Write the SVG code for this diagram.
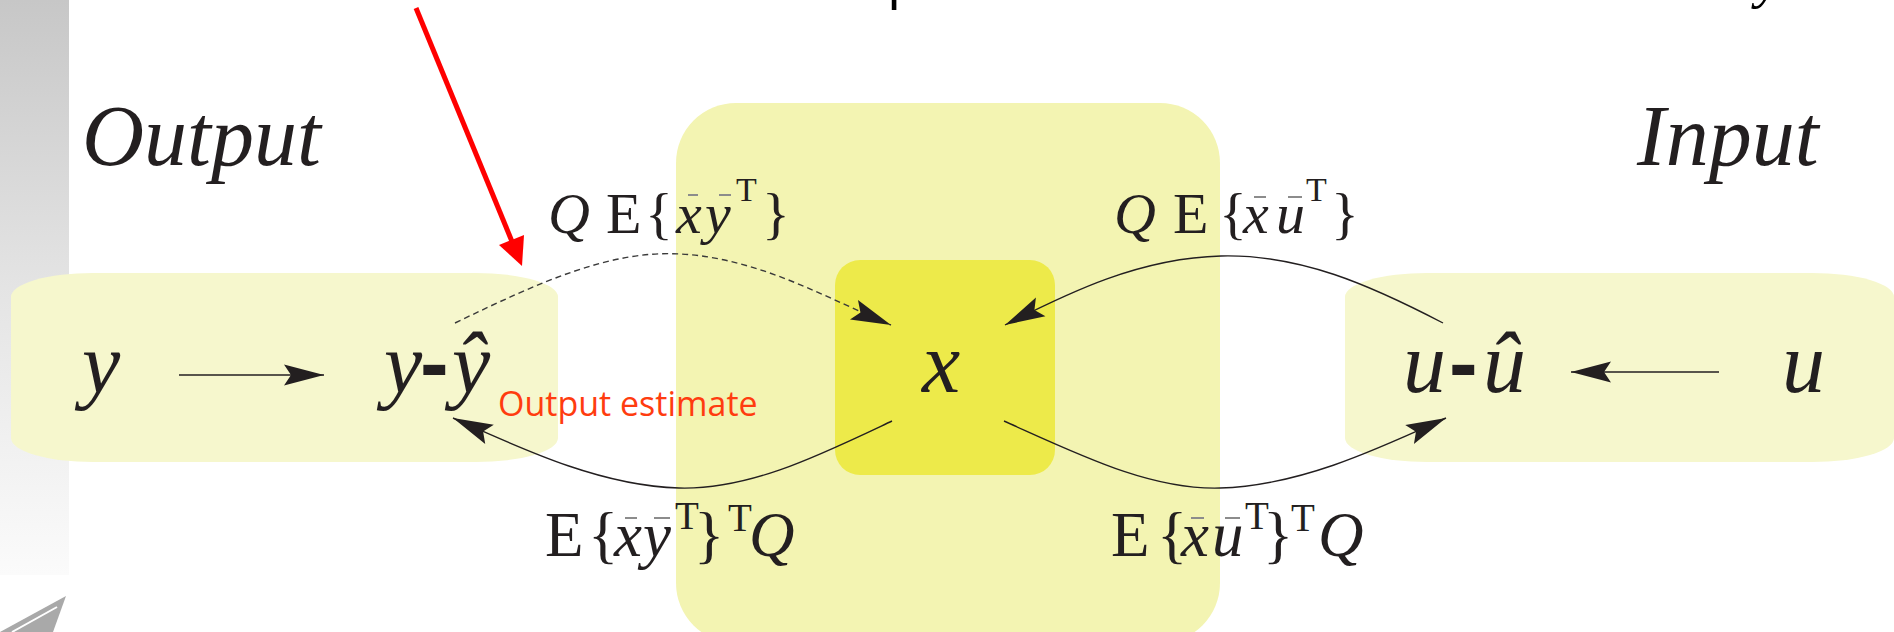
<svg xmlns="http://www.w3.org/2000/svg" width="1894" height="632" viewBox="0 0 1894 632">
  <style>
    .m { font-family: "Liberation Serif", "Times New Roman", serif; fill: #231f20; }
    .i { font-style: italic; }
    .big { font-size: 86px; }
    .lt { font-size: 58px; }
    .lb { font-size: 63px; }
    .sup1 { font-size: 34px; }
    .sup2 { font-size: 39px; }
    .bar { stroke: #8c8c8c; stroke-width: 2; }
    .conn { fill: none; stroke: #231f20; stroke-width: 1.4; }
    .dash { stroke: #3a3a3a; stroke-dasharray: 6 4; }
    .hy { font-family: "Liberation Sans", Arial, sans-serif; font-weight: bold; font-style: normal; }
  </style>
  <defs>
    <linearGradient id="strip" x1="0" y1="0" x2="0" y2="1">
      <stop offset="0" stop-color="#c7c7c7"/>
      <stop offset="0.5" stop-color="#e4e4e4"/>
      <stop offset="1" stop-color="#fbfbfb"/>
    </linearGradient>
    <marker id="ah" viewBox="-42 -12 44 24" refX="0" refY="0" markerWidth="44" markerHeight="24" markerUnits="userSpaceOnUse" orient="auto">
      <path d="M0,0 L-40,-10.5 L-33,0 L-40,10.5 Z" fill="#231f20" stroke="none"/>
    </marker>
  </defs>

  <!-- background decorations -->
  <rect x="0" y="0" width="69" height="575" fill="url(#strip)"/>
  <polygon points="0,632 66,596 53,632" fill="#a9a9a9"/>
  <line x1="12" y1="632" x2="57" y2="607" stroke="#ffffff" stroke-width="2"/>

  <!-- cut-off title fragments -->
  <text x="887" y="-4" font-family="Open Sans, sans-serif" font-size="56" fill="#000">p</text>
  <text x="1756" y="-3" font-family="Liberation Serif, serif" font-style="italic" font-size="56" fill="#000">y</text>

  <!-- section labels -->
  <text class="m i big" x="82" y="165">Output</text>
  <text class="m i big" x="1637" y="165">Input</text>

  <!-- nodes -->
  <g id="node-output">
    <rect x="11" y="273" width="547" height="189" rx="82" ry="24" fill="#f6f7cd"/>
  </g>
  <g id="node-input">
    <rect x="1345" y="273" width="549" height="189" rx="82" ry="24" fill="#f6f7cd"/>
  </g>
  <g id="node-state">
    <rect x="676" y="103" width="544" height="540" rx="60" ry="60" fill="#f3f4b2"/>
  </g>
  <g id="node-x">
    <rect x="835" y="260" width="220" height="215" rx="25" ry="25" fill="#edea4a"/>
    <text class="m i big" x="922" y="392">x</text>
  </g>
  <g id="node-y">
    <text class="m i big" x="82" y="392">y</text>
  </g>
  <g id="node-yerr">
    <text class="m i big" x="384" y="392">y</text>
    <text class="m big hy" x="420" y="392">-</text>
    <text class="m i big" x="452" y="392">ŷ</text>
  </g>
  <g id="node-uerr">
    <text class="m i big" x="1403" y="392">u</text>
    <text class="m big hy" x="1449" y="392">-</text>
    <text class="m i big" x="1483" y="392">û</text>
  </g>
  <g id="node-u">
    <text class="m i big" x="1782" y="392">u</text>
  </g>

  <!-- connectors -->
  <g id="connectors">
    <line class="conn" x1="179" y1="375" x2="324" y2="375" marker-end="url(#ah)"/>
    <line class="conn" x1="1719" y1="372" x2="1571" y2="372" marker-end="url(#ah)"/>
    <path class="conn dash" d="M455,323 C540,282 610,250 680,254 C760,258 830,300 891,325" marker-end="url(#ah)"/>
    <path class="conn" d="M1443,323 C1370,285 1300,254 1221,256 C1140,258 1070,292 1005,325" marker-end="url(#ah)"/>
    <path class="conn" d="M892,421 C820,455 750,490 679,488 C600,486 520,448 453,418" marker-end="url(#ah)"/>
    <path class="conn" d="M1004,421 C1080,455 1150,490 1220,488 C1300,486 1380,448 1446,418" marker-end="url(#ah)"/>
    <!-- red annotation arrow -->
    <line x1="416" y1="8" x2="513" y2="244" stroke="#ff0000" stroke-width="5"/>
    <polygon points="522,266 499,245 524,235" fill="#ff0000"/>
  </g>

  <!-- edge labels -->
  <g id="label-top-left" class="m">
    <text class="i lt" x="548" y="233">Q</text>
    <text class="lt" x="606" y="233">E</text>
    <text class="lt" x="645" y="233">{</text>
    <text class="i lt" x="676" y="233">x</text>
    <text class="i lt" x="705" y="233">y</text>
    <text class="sup1" x="736" y="201">T</text>
    <text class="lt" x="762" y="233">}</text>
    <line class="bar" x1="688" y1="195" x2="698" y2="195"/>
    <line class="bar" x1="719" y1="195" x2="731" y2="195"/>
  </g>
  <g id="label-top-right" class="m">
    <text class="i lt" x="1114" y="233">Q</text>
    <text class="lt" x="1173" y="233">E</text>
    <text class="lt" x="1219" y="233">{</text>
    <text class="i lt" x="1243" y="233">x</text>
    <text class="i lt" x="1276" y="233">u</text>
    <text class="sup1" x="1306" y="201">T</text>
    <text class="lt" x="1331" y="233">}</text>
    <line class="bar" x1="1254" y1="197" x2="1266" y2="197"/>
    <line class="bar" x1="1288" y1="197" x2="1302" y2="197"/>
  </g>
  <g id="label-bottom-left" class="m">
    <text class="lb" x="545" y="556">E</text>
    <text class="lb" x="588" y="556">{</text>
    <text class="i lb" x="614" y="556">x</text>
    <text class="i lb" x="643" y="556">y</text>
    <text class="sup2" x="675" y="529">T</text>
    <text class="lb" x="694" y="556">}</text>
    <text class="sup2" x="728" y="531">T</text>
    <text class="i lb" x="749" y="556">Q</text>
    <line class="bar" x1="625" y1="518" x2="637" y2="518"/>
    <line class="bar" x1="654" y1="518" x2="670" y2="518"/>
  </g>
  <g id="label-bottom-right" class="m">
    <text class="lb" x="1111" y="556">E</text>
    <text class="lb" x="1157" y="556">{</text>
    <text class="i lb" x="1181" y="556">x</text>
    <text class="i lb" x="1212" y="556">u</text>
    <text class="sup2" x="1245" y="529">T</text>
    <text class="lb" x="1263" y="556">}</text>
    <text class="sup2" x="1291" y="531">T</text>
    <text class="i lb" x="1318" y="556">Q</text>
    <line class="bar" x1="1191" y1="518" x2="1204" y2="518"/>
    <line class="bar" x1="1225" y1="518" x2="1240" y2="518"/>
  </g>
  <text x="498" y="416" font-family="Open Sans, sans-serif" font-size="34" fill="#ff3c0f">Output estimate</text>
</svg>
